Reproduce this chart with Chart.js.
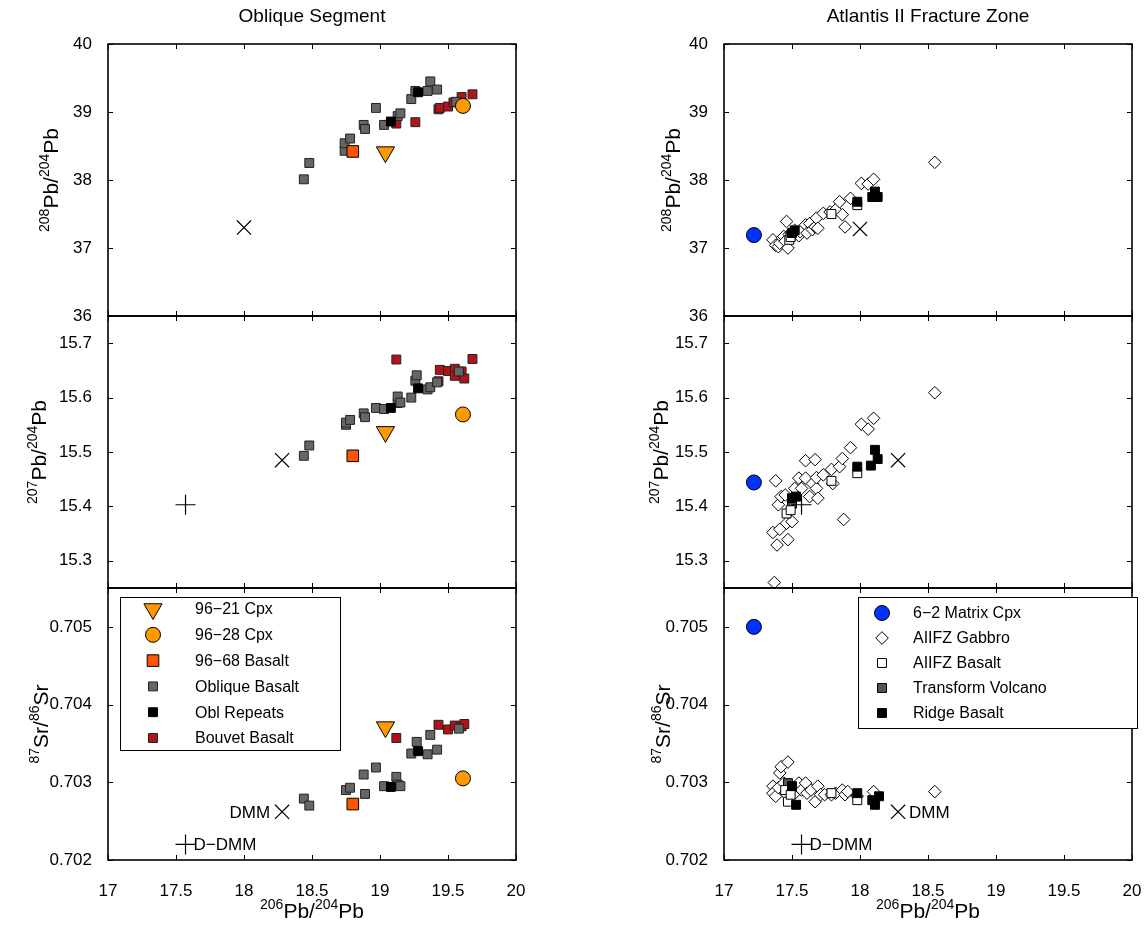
<!DOCTYPE html>
<html>
<head>
<meta charset="utf-8">
<script src="https://cdn.jsdelivr.net/npm/chart.js@4.4.0/dist/chart.umd.min.js"></script>
<style>
  body { margin: 0; background: #fff; width: 1146px; height: 926px; position: relative; overflow: hidden; }
  canvas { position: absolute; }
</style>
</head>
<body>
<canvas id="obPb8" width="530" height="328" style="left:0;top:0"></canvas>
<canvas id="obPb7" width="530" height="296" style="left:0;top:304px"></canvas>
<canvas id="obSr" width="530" height="350" style="left:0;top:576px"></canvas>
<canvas id="azPb8" width="530" height="328" style="left:616px;top:0"></canvas>
<canvas id="azPb7" width="530" height="296" style="left:616px;top:304px"></canvas>
<canvas id="azSr" width="530" height="350" style="left:616px;top:576px"></canvas>
<script>
// ---- shared axis values ----
const xTicks = [17, 17.5, 18, 18.5, 19, 19.5, 20];
const pb8Ticks = [36, 37, 38, 39, 40];
const pb7Ticks = [15.3, 15.4, 15.5, 15.6, 15.7];
const srTicks = [0.702, 0.703, 0.704, 0.705];

// ---- Oblique Segment: [206Pb/204Pb, y] ----
const cpx21Pb8 = [[19.04, 38.41]];
const cpx28Pb8 = [[19.61, 39.09]];
const bas68Pb8 = [[18.80, 38.42]];
const oblPb8 = [[18.44, 38.01], [18.48, 38.25], [18.74, 38.43], [18.74, 38.54], [18.78, 38.61], [18.88, 38.81],
  [18.89, 38.75], [18.97, 39.06], [19.03, 38.81], [19.13, 38.94], [19.15, 38.98], [19.23, 39.19], [19.26, 39.31],
  [19.35, 39.31], [19.37, 39.45], [19.42, 39.33], [19.56, 39.15]];
const repPb8 = [[19.08, 38.86], [19.28, 39.29]];
const bouvetPb8 = [[19.12, 38.83], [19.26, 38.85], [19.43, 39.04], [19.44, 39.06], [19.50, 39.08], [19.54, 39.14],
  [19.60, 39.22], [19.68, 39.26]];
const dmmPb8 = [[18.0, 37.3]];

const cpx21Pb7 = [[19.04, 15.537]];
const cpx28Pb7 = [[19.61, 15.569]];
const bas68Pb7 = [[18.80, 15.493]];
const oblPb7 = [[18.44, 15.493], [18.48, 15.512], [18.75, 15.550], [18.75, 15.554], [18.78, 15.559], [18.88, 15.571],
  [18.89, 15.564], [18.97, 15.581], [19.03, 15.579], [19.13, 15.590], [19.13, 15.602], [19.15, 15.591], [19.23, 15.600],
  [19.26, 15.631], [19.27, 15.641], [19.35, 15.615], [19.37, 15.619], [19.42, 15.628], [19.58, 15.648]];
const repPb7 = [[19.08, 15.581], [19.28, 15.617]];
const bouvetPb7 = [[19.12, 15.670], [19.43, 15.630], [19.44, 15.651], [19.50, 15.649], [19.55, 15.653], [19.55, 15.640],
  [19.60, 15.648], [19.62, 15.635], [19.68, 15.671]];
const dmmPb7 = [[18.28, 15.485]];
const ddmmPb7 = [[17.57, 15.403]];

const cpx21Sr = [[19.04, 0.70371]];
const cpx28Sr = [[19.61, 0.70305]];
const bas68Sr = [[18.80, 0.70272]];
const oblSr = [[18.44, 0.70279], [18.48, 0.70270], [18.75, 0.70290], [18.78, 0.70293], [18.88, 0.70310], [18.89, 0.70285],
  [18.97, 0.70319], [19.03, 0.70295], [19.12, 0.70307], [19.13, 0.70297], [19.15, 0.70295], [19.23, 0.70337],
  [19.27, 0.70352], [19.35, 0.70336], [19.37, 0.70361], [19.42, 0.70342], [19.58, 0.70369]];
const repSr = [[19.08, 0.70294], [19.28, 0.70340]];
const bouvetSr = [[19.12, 0.70357], [19.43, 0.70374], [19.50, 0.70368], [19.55, 0.70373], [19.60, 0.70372], [19.62, 0.70375]];
const dmmSr = [[18.28, 0.70262]];
const ddmmSr = [[17.57, 0.70220]];

// ---- Atlantis II Fracture Zone ----
const matrixPb8 = [[17.22, 37.19]];
const gabbroPb8 = [[17.36, 37.12], [17.38, 37.04], [17.40, 37.02], [17.41, 37.07], [17.43, 37.15], [17.44, 37.17],
  [17.45, 37.10], [17.46, 37.39], [17.47, 37.00], [17.48, 37.20], [17.50, 37.22], [17.52, 37.26], [17.55, 37.18],
  [17.56, 37.24], [17.60, 37.34], [17.61, 37.22], [17.63, 37.36], [17.65, 37.27], [17.67, 37.31], [17.68, 37.44],
  [17.69, 37.29], [17.73, 37.51], [17.78, 37.53], [17.82, 37.56], [17.85, 37.68], [17.87, 37.49], [17.89, 37.31],
  [17.93, 37.73], [18.01, 37.95], [18.06, 37.94], [18.10, 38.01], [18.55, 38.26]];
const aBasaltPb8 = [[17.48, 37.12], [17.49, 37.16], [17.79, 37.50], [17.98, 37.63]];
const tvPb8 = [[17.49, 37.18]];
const ridgePb8 = [[17.50, 37.22], [17.52, 37.26], [17.98, 37.68], [18.09, 37.75], [18.11, 37.83], [18.13, 37.75]];
const azDmmPb8 = [[18.0, 37.28]];

const matrixPb7 = [[17.22, 15.444]];
const gabbroPb7 = [[17.37, 15.260], [17.36, 15.352], [17.38, 15.447], [17.39, 15.329], [17.40, 15.403], [17.41, 15.358],
  [17.42, 15.418], [17.45, 15.421], [17.46, 15.369], [17.47, 15.339], [17.50, 15.372], [17.52, 15.433], [17.55, 15.452],
  [17.57, 15.433], [17.60, 15.452], [17.60, 15.484], [17.63, 15.418], [17.65, 15.442], [17.67, 15.486], [17.68, 15.433],
  [17.68, 15.453], [17.69, 15.415], [17.73, 15.458], [17.79, 15.468], [17.80, 15.442], [17.85, 15.473], [17.87, 15.488],
  [17.88, 15.376], [17.93, 15.508], [18.01, 15.551], [18.06, 15.542], [18.10, 15.562], [18.55, 15.609]];
const aBasaltPb7 = [[17.46, 15.387], [17.49, 15.393], [17.79, 15.447], [17.98, 15.461]];
const tvPb7 = [[17.50, 15.405]];
const ridgePb7 = [[17.50, 15.415], [17.53, 15.418], [17.98, 15.473], [18.08, 15.475], [18.11, 15.504], [18.13, 15.487]];
const azDmmPb7 = [[18.28, 15.485]];
const azDdmmPb7 = [[17.57, 15.403]];

const matrixSr = [[17.22, 0.70500]];
const gabbroSr = [[17.36, 0.70295], [17.36, 0.70286], [17.38, 0.70282], [17.40, 0.70293], [17.41, 0.70312], [17.42, 0.70320],
  [17.44, 0.70299], [17.45, 0.70286], [17.47, 0.70326], [17.49, 0.70290], [17.51, 0.70284], [17.55, 0.70299],
  [17.57, 0.70290], [17.60, 0.70299], [17.61, 0.70286], [17.64, 0.70290], [17.67, 0.70275], [17.69, 0.70295],
  [17.71, 0.70284], [17.74, 0.70284], [17.79, 0.70284], [17.82, 0.70286], [17.87, 0.70290], [17.89, 0.70284],
  [17.91, 0.70288], [17.98, 0.70282], [18.10, 0.70288], [18.55, 0.70288]];
const aBasaltSr = [[17.45, 0.70290], [17.47, 0.70275], [17.49, 0.70284], [17.79, 0.70286], [17.98, 0.70277]];
const tvSr = [[17.47, 0.70299]];
const ridgeSr = [[17.50, 0.70295], [17.53, 0.70271], [17.98, 0.70286], [18.09, 0.70277], [18.11, 0.70271], [18.14, 0.70282]];
const azDmmSr = [[18.28, 0.70262]];
const azDdmmSr = [[17.57, 0.70220]];

const obLegend = [['cpx21', '96\u221221 Cpx'], ['cpx28', '96\u221228 Cpx'], ['bas68', '96\u221268 Basalt'],
  ['obl', 'Oblique Basalt'], ['rep', 'Obl Repeats'], ['bouvet', 'Bouvet Basalt']];
const azLegend = [['matrix', '6\u22122 Matrix Cpx'], ['gabbro', 'AIIFZ Gabbro'], ['aBasalt', 'AIIFZ Basalt'],
  ['tv', 'Transform Volcano'], ['ridge', 'Ridge Basalt']];

// ---- marker styles ----
const markers = {
  cpx21: { shape: 'triangle', r: 10.5, rot: 180, fill: '#FF9900', edge: '#000', lw: 1 },
  cpx28: { shape: 'circle', r: 7.5, fill: '#FF9900', edge: '#000', lw: 1 },
  bas68: { shape: 'rect', r: 8.2, fill: '#FF5500', edge: '#000', lw: 1 },
  obl: { shape: 'rect', r: 6.3, fill: '#666666', edge: '#222', lw: 1 },
  rep: { shape: 'rect', r: 6.3, fill: '#000', edge: '#000', lw: 1 },
  bouvet: { shape: 'rect', r: 6.3, fill: '#B0141A', edge: '#222', lw: 1 },
  matrix: { shape: 'circle', r: 7.5, fill: '#0033FF', edge: '#000', lw: 1 },
  gabbro: { shape: 'rectRot', r: 6.3, fill: '#fff', edge: '#000', lw: 1 },
  aBasalt: { shape: 'rect', r: 6.3, fill: '#fff', edge: '#000', lw: 1 },
  tv: { shape: 'rect', r: 6.3, fill: '#555555', edge: '#000', lw: 1 },
  ridge: { shape: 'rect', r: 6.3, fill: '#000', edge: '#000', lw: 1 },
  dmm: { shape: 'crossRot', r: 10, fill: '#000', edge: '#000', lw: 1.2 },
  ddmm: { shape: 'cross', r: 10, fill: '#000', edge: '#000', lw: 1.2 }
};

const FONT = '"Liberation Sans", Arial, Helvetica, sans-serif';
Chart.defaults.font.family = FONT;
Chart.defaults.color = '#000';

function ds(key, pts) {
  const m = markers[key];
  return {
    label: key,
    data: pts.map(([x, y]) => ({ x, y })),
    pointStyle: m.shape,
    pointRadius: m.r,
    pointHoverRadius: m.r,
    pointRotation: m.rot || 0,
    pointBackgroundColor: m.fill,
    pointBorderColor: m.edge,
    pointBorderWidth: m.lw
  };
}

// text with raised superscripts, e.g. 208Pb/204Pb
function supText(ctx, parts, x, y, rotate) {
  ctx.save();
  ctx.translate(x, y);
  if (rotate) ctx.rotate(-Math.PI / 2);
  const big = '21px ' + FONT, small = '14px ' + FONT;
  let w = 0;
  parts.forEach(([t, s]) => { ctx.font = s ? small : big; w += ctx.measureText(t).width; });
  let cx = -w / 2;
  ctx.fillStyle = '#000';
  ctx.textAlign = 'left';
  ctx.textBaseline = 'alphabetic';
  parts.forEach(([t, s]) => {
    ctx.font = s ? small : big;
    ctx.fillText(t, cx, s ? -1 : 7.5);
    cx += ctx.measureText(t).width;
  });
  ctx.restore();
}

const extras = {}; // per-canvas decorations

const framePlugin = {
  id: 'frame',
  afterDraw(chart) {
    const ex = extras[chart.canvas.id];
    const { ctx, chartArea: a } = chart;
    const xs = chart.scales.x, ys = chart.scales.y;
    ctx.save();
    // inward ticks on all four sides
    ctx.strokeStyle = '#000';
    ctx.lineWidth = 1;
    ctx.beginPath();
    xTicks.forEach(v => {
      const px = Math.round(xs.getPixelForValue(v)) + 0.5;
      ctx.moveTo(px, a.bottom); ctx.lineTo(px, a.bottom - 5);
      ctx.moveTo(px, a.top); ctx.lineTo(px, a.top + 5);
    });
    ex.yTicks.forEach(v => {
      const py = Math.round(ys.getPixelForValue(v)) + 0.5;
      ctx.moveTo(a.left, py); ctx.lineTo(a.left + 5, py);
      ctx.moveTo(a.right, py); ctx.lineTo(a.right - 5, py);
    });
    ctx.stroke();
    ctx.lineWidth = 1.6;
    ctx.strokeRect(a.left, a.top, a.right - a.left, a.bottom - a.top);

    supText(ctx, ex.yTitle, ex.yTitleX, (a.top + a.bottom) / 2, true);
    if (ex.xTitle) supText(ctx, ex.xTitle, (a.left + a.right) / 2, a.bottom + 50, false);
    if (ex.colTitle) {
      ctx.font = '19px ' + FONT;
      ctx.textAlign = 'center';
      ctx.textBaseline = 'middle';
      ctx.fillStyle = '#000';
      ctx.fillText(ex.colTitle, (a.left + a.right) / 2, a.top - 27);
    }
    (ex.notes || []).forEach(n => {
      ctx.font = '17px ' + FONT;
      ctx.textAlign = n.align;
      ctx.textBaseline = 'middle';
      ctx.fillStyle = '#000';
      ctx.fillText(n.text, xs.getPixelForValue(n.at[0]) + n.dx, ys.getPixelForValue(n.at[1]) + 1);
    });
    if (ex.legend) {
      const lg = ex.legend;
      ctx.fillStyle = '#fff';
      ctx.fillRect(lg.x, lg.y, lg.w, lg.h);
      ctx.lineWidth = 1;
      ctx.strokeStyle = '#000';
      ctx.strokeRect(lg.x + 0.5, lg.y + 0.5, lg.w, lg.h);
      lg.items.forEach(([key, label], i) => {
        const m = markers[key], cy = lg.y0 + i * lg.dy;
        ctx.fillStyle = m.fill;
        ctx.strokeStyle = m.edge;
        ctx.lineWidth = m.lw;
        Chart.helpers.drawPoint(ctx, { pointStyle: m.shape, radius: m.r, rotation: m.rot || 0, borderWidth: m.lw }, lg.mx, cy);
        ctx.fillStyle = '#000';
        ctx.font = '16px ' + FONT;
        ctx.textAlign = 'left';
        ctx.textBaseline = 'middle';
        ctx.fillText(label, lg.tx, cy + 1);
      });
    }
    ctx.restore();
  }
};

// keep the tick labels from pushing the plot box around
function noOverhang(s) {
  s.paddingTop = 0; s.paddingBottom = 0; s.paddingLeft = 0; s.paddingRight = 0;
}

function makePanel(id, datasets, yMin, yMax, yTicks, yFmt, row) {
  const bottom = row === 3;
  const pad = row === 1 ? { top: 44, bottom: 12 } : row === 2 ? { top: 12, bottom: 12 } : { top: 12, bottom: 0 };
  extras[id].yTicks = yTicks;
  new Chart(document.getElementById(id), {
    type: 'scatter',
    data: { datasets },
    options: {
      responsive: false,
      animation: false,
      events: [],
      layout: { padding: { left: 0, right: 14, top: pad.top, bottom: pad.bottom } },
      plugins: { legend: { display: false }, tooltip: { enabled: false } },
      scales: {
        x: {
          type: 'linear', min: 17, max: 20, display: bottom,
          grid: { display: false }, border: { display: false },
          afterBuildTicks: s => { s.ticks = xTicks.map(v => ({ value: v })); },
          afterFit: s => { s.height = bottom ? 66 : 0; noOverhang(s); },
          ticks: { font: { size: 17 }, padding: 13, maxRotation: 0, autoSkip: false, callback: v => String(v) }
        },
        y: {
          type: 'linear', min: yMin, max: yMax,
          grid: { display: false }, border: { display: false },
          afterBuildTicks: s => { s.ticks = yTicks.map(v => ({ value: v })); },
          afterFit: s => { s.width = 108; noOverhang(s); },
          ticks: { font: { size: 17 }, padding: 8, autoSkip: false, callback: yFmt }
        }
      }
    },
    plugins: [framePlugin]
  });
}

const PB8 = [['208', 1], ['Pb/', 0], ['204', 1], ['Pb', 0]];
const PB7 = [['207', 1], ['Pb/', 0], ['204', 1], ['Pb', 0]];
const SR = [['87', 1], ['Sr/', 0], ['86', 1], ['Sr', 0]];
const PB6 = [['206', 1], ['Pb/', 0], ['204', 1], ['Pb', 0]];

extras.obPb8 = { yTitle: PB8, yTitleX: 50, colTitle: 'Oblique Segment' };
extras.obPb7 = { yTitle: PB7, yTitleX: 38 };
extras.obSr = {
  yTitle: SR, yTitleX: 40, xTitle: PB6,
  notes: [
    { text: 'DMM', at: dmmSr[0], dx: -12, align: 'right' },
    { text: 'D\u2212DMM', at: ddmmSr[0], dx: 8, align: 'left' }
  ],
  legend: { x: 120, y: 21, w: 220, h: 153, mx: 153, tx: 195, y0: 33, dy: 25.8, items: obLegend }
};
extras.azPb8 = { yTitle: PB8, yTitleX: 56, colTitle: 'Atlantis II Fracture Zone' };
extras.azPb7 = { yTitle: PB7, yTitleX: 44 };
extras.azSr = {
  yTitle: SR, yTitleX: 46, xTitle: PB6,
  notes: [
    { text: 'DMM', at: azDmmSr[0], dx: 11, align: 'left' },
    { text: 'D\u2212DMM', at: azDdmmSr[0], dx: 8, align: 'left' }
  ],
  legend: { x: 242, y: 21, w: 279, h: 131, mx: 266, tx: 297, y0: 37, dy: 25, items: azLegend }
};

const intFmt = v => String(v);
const oneFmt = v => v.toFixed(1);
const srFmt = v => v.toFixed(3);

makePanel('obPb8', [ds('dmm', dmmPb8), ds('cpx21', cpx21Pb8), ds('cpx28', cpx28Pb8), ds('bas68', bas68Pb8),
  ds('rep', repPb8), ds('obl', oblPb8), ds('bouvet', bouvetPb8)], 36, 40, pb8Ticks, intFmt, 1);
makePanel('obPb7', [ds('dmm', dmmPb7), ds('ddmm', ddmmPb7), ds('cpx21', cpx21Pb7), ds('cpx28', cpx28Pb7), ds('bas68', bas68Pb7),
  ds('rep', repPb7), ds('obl', oblPb7), ds('bouvet', bouvetPb7)], 15.25, 15.75, pb7Ticks, oneFmt, 2);
makePanel('obSr', [ds('dmm', dmmSr), ds('ddmm', ddmmSr), ds('cpx21', cpx21Sr), ds('cpx28', cpx28Sr), ds('bas68', bas68Sr),
  ds('rep', repSr), ds('obl', oblSr), ds('bouvet', bouvetSr)], 0.702, 0.7055, srTicks, srFmt, 3);

makePanel('azPb8', [ds('dmm', azDmmPb8), ds('matrix', matrixPb8), ds('ridge', ridgePb8), ds('aBasalt', aBasaltPb8),
  ds('tv', tvPb8), ds('gabbro', gabbroPb8)], 36, 40, pb8Ticks, intFmt, 1);
makePanel('azPb7', [ds('dmm', azDmmPb7), ds('ddmm', azDdmmPb7), ds('matrix', matrixPb7), ds('ridge', ridgePb7),
  ds('aBasalt', aBasaltPb7), ds('tv', tvPb7), ds('gabbro', gabbroPb7)], 15.25, 15.75, pb7Ticks, oneFmt, 2);
makePanel('azSr', [ds('dmm', azDmmSr), ds('ddmm', azDdmmSr), ds('matrix', matrixSr), ds('ridge', ridgeSr),
  ds('aBasalt', aBasaltSr), ds('tv', tvSr), ds('gabbro', gabbroSr)], 0.702, 0.7055, srTicks, srFmt, 3);
</script>
</body>
</html>
